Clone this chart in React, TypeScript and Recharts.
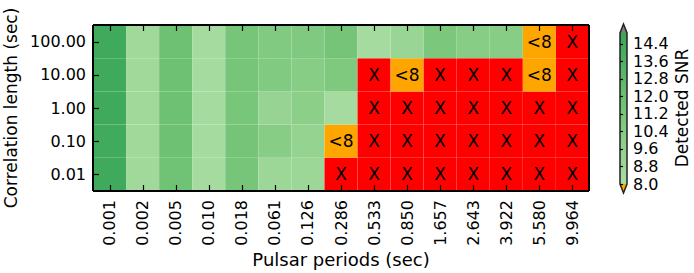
import { BarChart, Bar, XAxis, YAxis, Cell, LabelList } from 'recharts';

// pulsar periods (sec), left to right
const PERIODS = ['0.001', '0.002', '0.005', '0.010', '0.018', '0.061', '0.126', '0.286', '0.533', '0.850', '1.657', '2.643', '3.922', '5.580', '9.964'];
// correlation lengths (sec), bottom to top
const CORR_LENGTHS = ['0.01', '0.10', '1.00', '10.00', '100.00'];

// detected SNR per correlation length; '<8' = below threshold, 'X' = not detected
const SNR_0_01 = [14.4, 8.6, 11.7, 8.2, 11.3, 8.9, 8.9, 'X', 'X', 'X', 'X', 'X', 'X', 'X', 'X'];
const SNR_0_10 = [14.3, 8.6, 11.8, 8.2, 11.4, 10.2, 9.4, '<8', 'X', 'X', 'X', 'X', 'X', 'X', 'X'];
const SNR_1_00 = [14.5, 8.6, 11.8, 8.2, 11.2, 9.2, 10.0, 8.3, 'X', 'X', 'X', 'X', 'X', 'X', 'X'];
const SNR_10_00 = [14.5, 8.6, 11.8, 8.2, 11.3, 10.6, 10.2, 10.8, 'X', '<8', 'X', 'X', 'X', '<8', 'X'];
const SNR_100_00 = [14.4, 8.6, 11.8, 8.2, 11.3, 10.6, 10.7, 11.4, 8.2, 9.1, 11.0, 10.2, 10.2, '<8', 'X'];

const SNR_ROWS: (number | string)[][] = [SNR_0_01, SNR_0_10, SNR_1_00, SNR_10_00, SNR_100_00];

const CBAR_TICKS = [8.0, 8.8, 9.6, 10.4, 11.2, 12.0, 12.8, 13.6, 14.4];
const VMIN = 8.0;
const VMAX = 14.9;

const FONT = '"DejaVu Sans", sans-serif';
const INK = '#000000';

// part of matplotlib's Greens map
const GREENS: [number, number[]][] = [
    [0.25, [199, 233, 192]],
    [0.375, [161, 217, 155]],
    [0.5, [116, 196, 118]],
    [0.625, [65, 171, 93]],
    [0.75, [35, 139, 69]],
];

function greens(t: number) {
    for (let i = 0; i < GREENS.length - 1; i++) {
        const [t0, c0] = GREENS[i];
        const [t1, c1] = GREENS[i + 1];
        if (t <= t1 || i === GREENS.length - 2) {
            const f = Math.max(0, Math.min(1, (t - t0) / (t1 - t0)));
            const c = c0.map((v, k) => Math.round(v + (c1[k] - v) * f));
            return `rgb(${c[0]},${c[1]},${c[2]})`;
        }
    }
    return 'rgb(0,0,0)';
}

const snrColor = (v: number) => greens(0.35 + ((v - VMIN) / (VMAX - VMIN)) * 0.3);

function cellColor(v: number | string) {
    if (v === 'X') return '#ff0000';
    if (v === '<8') return '#ffa500';
    return snrColor(v as number);
}

const chartData = PERIODS.map((p, i) => {
    const row: Record<string, any> = { period: p };
    SNR_ROWS.forEach((r, k) => {
        row[`r${k}`] = 1;
        row[`lbl${k}`] = typeof r[i] === 'string' ? r[i] : '';
    });
    return row;
});

const snap = (v: number) => Math.round(v) + 0.5;

const BottomTick = (props: any) => {
    const { x, y, payload } = props;
    return (
        <g>
            <line x1={snap(x)} y1={y} x2={snap(x)} y2={y - 6} stroke={INK} strokeWidth={1.2} />
            <text
                x={x}
                y={y + 9}
                transform={`rotate(-90, ${x}, ${y + 9})`}
                textAnchor="end"
                dominantBaseline="central"
                fontFamily={FONT}
                fontSize={16}
                fill={INK}
            >
                {payload.value}
            </text>
        </g>
    );
};

const TopTick = (props: any) => {
    const { x, y } = props;
    return <line x1={snap(x)} y1={y} x2={snap(x)} y2={y + 6} stroke={INK} strokeWidth={1.2} />;
};

const LeftTick = (props: any) => {
    const { x, y, payload } = props;
    return (
        <g>
            <line x1={x} y1={snap(y)} x2={x + 6} y2={snap(y)} stroke={INK} strokeWidth={1.2} />
            <text x={x - 7} y={y} textAnchor="end" dominantBaseline="central" fontFamily={FONT} fontSize={16} fill={INK}>
                {CORR_LENGTHS[Math.floor(payload.value)]}
            </text>
        </g>
    );
};

const RightTick = (props: any) => {
    const { x, y } = props;
    return <line x1={x} y1={snap(y)} x2={x - 6} y2={snap(y)} stroke={INK} strokeWidth={1.2} />;
};

function ColorBar() {
    const x0 = 620;
    const w = 7;
    const top = 33;
    const bottom = 184;
    const yOf = (v: number) => bottom - ((v - VMIN) / (VMAX - VMIN)) * (bottom - top);
    const stops = Array.from({ length: 11 }, (_, i) => i / 10);
    return (
        <svg width={694} height={273} style={{ position: 'absolute', left: 0, top: 0, pointerEvents: 'none' }}>
            <defs>
                <linearGradient id="cbar" x1="0" y1="1" x2="0" y2="0">
                    {stops.map(s => (
                        <stop key={s} offset={s} stopColor={snrColor(VMIN + s * (VMAX - VMIN))} />
                    ))}
                </linearGradient>
            </defs>
            <rect x={x0} y={top} width={w} height={bottom - top} fill="url(#cbar)" />
            <polygon points={`${x0},${top} ${x0 + w},${top} ${x0 + w / 2},${top - 9}`} fill="#808080" />
            <polygon points={`${x0},${bottom} ${x0 + w},${bottom} ${x0 + w / 2},${bottom + 9}`} fill="#ffa500" />
            <polygon
                points={`${x0},${top} ${x0 + w / 2},${top - 9} ${x0 + w},${top} ${x0 + w},${bottom} ${x0 + w / 2},${bottom + 9} ${x0},${bottom}`}
                fill="none"
                stroke="#222"
                strokeWidth={1.5}
            />
            {CBAR_TICKS.map(t => (
                <g key={t}>
                    <line x1={x0} y1={snap(yOf(t))} x2={x0 + 3} y2={snap(yOf(t))} stroke={INK} strokeWidth={1.2} />
                    <text x={x0 + 13} y={yOf(t)} dominantBaseline="central" fontFamily={FONT} fontSize={16} fill={INK}>
                        {t.toFixed(1)}
                    </text>
                </g>
            ))}
            <text
                x={688}
                y={108}
                transform="rotate(-90, 688, 108)"
                textAnchor="middle"
                fontFamily={FONT}
                fontSize={17}
                fill={INK}
            >
                Detected SNR
            </text>
        </svg>
    );
}

const xLabel = ({ viewBox }: any) => (
    <text x={viewBox.x + viewBox.width / 2} y={viewBox.y + 75} textAnchor="middle" fontFamily={FONT} fontSize={18} fill={INK}>
        Pulsar periods (sec)
    </text>
);

const yLabel = ({ viewBox }: any) => {
    const cy = viewBox.y + viewBox.height / 2;
    return (
        <text x={17} y={cy} transform={`rotate(-90, 17, ${cy})`} textAnchor="middle" fontFamily={FONT} fontSize={17} fill={INK}>
            Correlation length (sec)
        </text>
    );
};

const frame = { stroke: INK, strokeWidth: 2 };

export default function App() {
    return (
        <div style={{ position: 'absolute', left: 0, top: 0, width: 694, height: 273, background: '#fff' }}>
            <BarChart
                width={694}
                height={273}
                data={chartData}
                margin={{ top: 24, right: 104, left: 33, bottom: 12 }}
                barCategoryGap={0}
                barGap={0}
            >
                {SNR_ROWS.map((row, k) => (
                    <Bar key={k} dataKey={`r${k}`} stackId="a" isAnimationActive={false}>
                        {row.map((v, i) => (
                            <Cell key={i} fill={cellColor(v)} />
                        ))}
                        <LabelList dataKey={`lbl${k}`} position="center" fill={INK} fontFamily={FONT} fontSize={17} />
                    </Bar>
                ))}
                <XAxis
                    dataKey="period"
                    height={70}
                    tickSize={0}
                    tickMargin={0}
                    tickLine={false}
                    axisLine={frame}
                    tick={<BottomTick />}
                    interval={0}
                    label={{ content: xLabel }}
                />
                <XAxis
                    xAxisId="top"
                    orientation="top"
                    dataKey="period"
                    height={1}
                    tickSize={0}
                    tickMargin={0}
                    tickLine={false}
                    axisLine={frame}
                    tick={<TopTick />}
                    interval={0}
                />
                <YAxis
                    type="number"
                    domain={[0, 5]}
                    ticks={[0.5, 1.5, 2.5, 3.5, 4.5]}
                    width={60}
                    tickSize={0}
                    tickMargin={0}
                    tickLine={false}
                    axisLine={frame}
                    tick={<LeftTick />}
                    label={{ content: yLabel }}
                />
                <YAxis
                    yAxisId="right"
                    orientation="right"
                    type="number"
                    domain={[0, 5]}
                    ticks={[0.5, 1.5, 2.5, 3.5, 4.5]}
                    width={1}
                    tickSize={0}
                    tickMargin={0}
                    tickLine={false}
                    axisLine={frame}
                    tick={<RightTick />}
                />
            </BarChart>
            <ColorBar />
        </div>
    );
}
